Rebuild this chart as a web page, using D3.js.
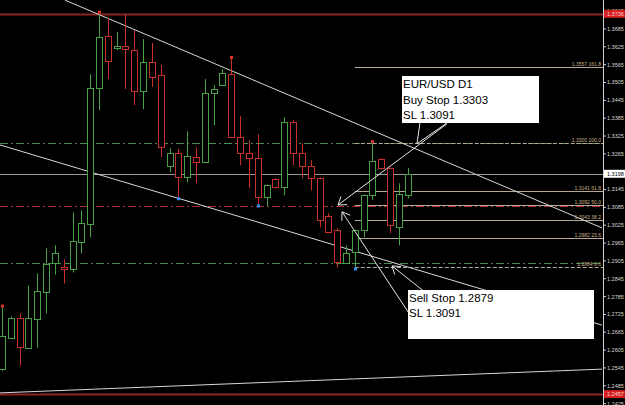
<!DOCTYPE html>
<meta charset="utf-8">
<html>
<script src="https://d3js.org/d3.v7.min.js"></script>
<style>
  body { margin: 0; background: #000; }
  text { font-family: "Liberation Sans", Arial, sans-serif; }
</style>
<div id="chart"></div>
<script>

var width = 625,
    height = 405,
    plotRight = 603;

// daily bars, oldest first
var opens  = [1.2543,1.2647,1.2714,1.2613,1.2711,1.2802,1.2896,1.2883,1.2876,1.2967,1.3028,1.3486,1.3661,1.3621,1.3628,1.3614,1.3476,1.3574,1.3530,1.3223,1.3267,1.3186,1.3254,1.3237,1.3469,1.3496,1.3533,1.3321,1.3267,1.3250,1.3119,1.3180,1.3153,1.3372,1.3267,1.3223,1.3183,1.3055,1.3008,1.2900,1.2933,1.3008,1.3126,1.3247,1.3217,1.3018,1.3129];
var highs  = [1.2748,1.2718,1.2728,1.2822,1.2863,1.2947,1.2957,1.2910,1.3068,1.3075,1.3533,1.3736,1.3722,1.3675,1.3736,1.3682,1.3651,1.3638,1.3564,1.3284,1.3281,1.3341,1.3287,1.3517,1.3496,1.3550,1.3584,1.3392,1.3311,1.3331,1.3162,1.3183,1.3388,1.3378,1.3301,1.3244,1.3186,1.3065,1.3015,1.2957,1.3010,1.3128,1.3301,1.3250,1.3220,1.3166,1.3217];
var lows   = [1.2536,1.2644,1.2553,1.2610,1.2613,1.2728,1.2859,1.2829,1.2866,1.2930,1.2984,1.3412,1.3517,1.3614,1.3483,1.3429,1.3415,1.3490,1.3254,1.3203,1.3119,1.3169,1.3166,1.3234,1.3361,1.3493,1.3318,1.3227,1.3149,1.3095,1.3089,1.3149,1.3126,1.3227,1.3183,1.3142,1.3018,1.2998,1.2883,1.2896,1.2883,1.2984,1.3109,1.3213,1.2998,1.2957,1.3115];
var closes = [1.2654,1.2714,1.2617,1.2714,1.2805,1.2896,1.2930,1.2876,1.2971,1.3031,1.3486,1.3658,1.3577,1.3628,1.3618,1.3476,1.3574,1.3523,1.3287,1.3267,1.3186,1.3257,1.3237,1.3469,1.3483,1.3537,1.3321,1.3267,1.3250,1.3119,1.3159,1.3153,1.3372,1.3267,1.3223,1.3183,1.3041,1.3001,1.2900,1.2933,1.3008,1.3126,1.3240,1.3217,1.3024,1.3129,1.3198];

// 1.3205 sits under the last-price tag, so it is not listed
var priceTicks = [1.2425,1.2485,1.2545,1.2605,1.2665,1.2725,1.2785,1.2845,1.2905,1.2965,1.3025,1.3085,1.3145,1.3265,1.3325,1.3385,1.3445,1.3505,1.3565,1.3625,1.3685,1.3745];

var fibLevels = [1.3557, 1.3300, 1.3141, 1.3092, 1.3043, 1.2982, 1.2884];
var fibNames  = ["161.8", "100.0", "61.8", "50.0", "38.2", "23.6", "0.0"];
var fibStart = 40;

var fractalUp = [0, 11, 26, 42];
var fractalDown = [20, 29, 40];

var pendingLevels = [1.3303, 1.2898];
var stopLevel = 1.3091;
var rangeLevels = [1.3736, 1.2457];
var lastPrice = 1.3198;

// trend lines as [bar, price] pairs
var trendLines = [
  [[7.14, 1.3782], [68.03, 1.3016]],
  [[-0.23, 1.3295], [68.03, 1.2689]],
  [[-0.23, 1.2461], [68.03, 1.2541]]
];

// arrows: [from, tip]
var arrows = [
  [[50.45, 1.3366], [38.10, 1.3093]],
  [[47.39, 1.2673], [38.55, 1.3070]],
  [[47.96, 1.2800], [44.22, 1.2888]]
];
var pointers = [
  [[47.39, 1.3369], [47.05, 1.3299]],
  [[50.45, 1.3369], [47.05, 1.3299]]
];

var buyText = ["EUR/USD D1", "Buy Stop 1.3303", "SL  1.3091"];
var sellText = ["Sell Stop 1.2879", "SL 1.3091"];

var green = "#46a046", red = "#c9302c";

var x = d3.scaleLinear().domain([0, 46]).range([2, 407.7]);
var y = d3.scaleLinear().domain([1.24203, 1.37825]).range([405, 0]);

var svg = d3.select("#chart").append("svg")
    .attr("width", width)
    .attr("height", height)
    .style("background", "#000");

var plot = svg.append("g");

// range lines (high / low)
plot.selectAll("line.range")
  .data(rangeLevels)
  .enter().append("line")
    .attr("x1", 0).attr("x2", plotRight)
    .attr("y1", function(d) { return Math.round(y(d)) + 0.5; })
    .attr("y2", function(d) { return Math.round(y(d)) + 0.5; })
    .attr("stroke", "#8e2424")
    .attr("stroke-width", 2);

// pending order lines
plot.selectAll("line.pending")
  .data(pendingLevels)
  .enter().append("line")
    .attr("x1", 0).attr("x2", plotRight)
    .attr("y1", function(d) { return Math.round(y(d)) + 0.5; })
    .attr("y2", function(d) { return Math.round(y(d)) + 0.5; })
    .attr("stroke", "#4e8a4e")
    .attr("stroke-dasharray", "8,3,2,3");

plot.append("line")
    .attr("x1", 0).attr("x2", plotRight)
    .attr("y1", Math.round(y(stopLevel)) + 0.5)
    .attr("y2", Math.round(y(stopLevel)) + 0.5)
    .attr("stroke", "#a83232")
    .attr("stroke-dasharray", "8,3,2,3");

// last price line
plot.append("line")
    .attr("x1", 0).attr("x2", plotRight)
    .attr("y1", Math.round(y(lastPrice)) + 0.5)
    .attr("y2", Math.round(y(lastPrice)) + 0.5)
    .attr("stroke", "#9a9a9a");

// fibonacci levels
var fib = plot.selectAll("g.fib")
  .data(fibLevels)
  .enter().append("g");

fib.append("line")
    .attr("x1", x(fibStart)).attr("x2", plotRight)
    .attr("y1", function(d) { return Math.round(y(d)) + 0.5; })
    .attr("y2", function(d) { return Math.round(y(d)) + 0.5; })
    .attr("stroke", "#b8a898")
    .attr("stroke-dasharray", function(d, i) { return (i == 1 || i == 6) ? "4,2" : null; });

fib.append("text")
    .attr("x", plotRight - 2)
    .attr("y", function(d) { return Math.round(y(d)) - 1; })
    .attr("text-anchor", "end")
    .attr("font-size", "5px")
    .attr("fill", "#c8b48a")
    .text(function(d, i) { return d.toFixed(4) + "  " + fibNames[i]; });

// trend lines
var line = d3.line()
    .x(function(d) { return x(d[0]); })
    .y(function(d) { return y(d[1]); });

plot.selectAll("path.trend")
  .data(trendLines)
  .enter().append("path")
    .attr("d", line)
    .attr("stroke", "#d8d8d8")
    .attr("fill", "none");

// candles
var bars = d3.range(opens.length);

plot.selectAll("line.wick")
  .data(bars)
  .enter().append("line")
    .attr("x1", function(i) { return Math.round(x(i)) + 0.5; })
    .attr("x2", function(i) { return Math.round(x(i)) + 0.5; })
    .attr("y1", function(i) { return y(highs[i]); })
    .attr("y2", function(i) { return y(lows[i]); })
    .attr("stroke", function(i) { return closes[i] >= opens[i] ? green : red; });

plot.selectAll("rect.body")
  .data(bars)
  .enter().append("rect")
    .attr("x", function(i) { return Math.round(x(i)) - 2.5; })
    .attr("y", function(i) { return Math.round(y(Math.max(opens[i], closes[i]))) + 0.5; })
    .attr("width", 6)
    .attr("height", function(i) { return Math.max(1, Math.round(Math.abs(y(opens[i]) - y(closes[i])))); })
    .attr("fill", "#000")
    .attr("stroke", function(i) { return closes[i] >= opens[i] ? green : red; });

// fractal markers
plot.selectAll("rect.up")
  .data(fractalUp)
  .enter().append("rect")
    .attr("x", function(i) { return Math.round(x(i)) - 1; })
    .attr("y", function(i) { return y(highs[i]) - 3; })
    .attr("width", 3).attr("height", 3)
    .attr("fill", "#e03030");

plot.selectAll("rect.down")
  .data(fractalDown)
  .enter().append("rect")
    .attr("x", function(i) { return Math.round(x(i)) - 1; })
    .attr("y", function(i) { return y(lows[i]); })
    .attr("width", 3).attr("height", 3)
    .attr("fill", "#3a8cf0");

// arrows
function arrowHead(a) {
  var x0 = x(a[0][0]), y0 = y(a[0][1]), x1 = x(a[1][0]), y1 = y(a[1][1]);
  var ang = Math.atan2(y0 - y1, x0 - x1), len = 9, spread = 0.6;
  return "M" + (x1 + len * Math.cos(ang - spread)) + "," + (y1 + len * Math.sin(ang - spread)) +
         "L" + x1 + "," + y1 +
         "L" + (x1 + len * Math.cos(ang + spread)) + "," + (y1 + len * Math.sin(ang + spread));
}

plot.selectAll("path.arrow")
  .data(arrows.concat(pointers))
  .enter().append("path")
    .attr("d", line)
    .attr("stroke", "#e6e6e6")
    .attr("fill", "none");

plot.selectAll("path.head")
  .data(arrows)
  .enter().append("path")
    .attr("d", arrowHead)
    .attr("stroke", "#e6e6e6")
    .attr("fill", "none");

// text boxes
function textBox(x0, y0, w, h, lines, lh) {
  plot.append("rect")
      .attr("x", x0).attr("y", y0)
      .attr("width", w).attr("height", h)
      .attr("fill", "#fff");
  plot.selectAll(null)
    .data(lines)
    .enter().append("text")
      .attr("x", x0 + 1)
      .attr("y", function(d, i) { return y0 + 12 + i * lh; })
      .attr("font-size", "11.5px")
      .attr("fill", "#000")
      .text(function(d) { return d; });
}
textBox(402, 76, 137, 47, buyText, 15.7);
textBox(408, 290, 186, 49, sellText, 15.2);

// price axis
var axis = svg.append("g");
axis.append("line")
    .attr("x1", plotRight + 0.5).attr("x2", plotRight + 0.5)
    .attr("y1", 0).attr("y2", height)
    .attr("stroke", "#d0d0d0");

var tick = axis.selectAll("g.tick")
  .data(priceTicks)
  .enter().append("g")
    .attr("transform", function(d) { return "translate(0," + y(d) + ")"; });

tick.append("line")
    .attr("x1", plotRight).attr("x2", plotRight + 3)
    .attr("stroke", "#d0d0d0");

tick.append("text")
    .attr("x", plotRight + 4)
    .attr("dy", "0.35em")
    .attr("font-size", "5.5px")
    .attr("fill", "#d8d8d8")
    .text(function(d) { return d.toFixed(4); });

// price tags
function tag(p, bg, fg) {
  var g = axis.append("g").attr("transform", "translate(0," + y(p) + ")");
  g.append("rect")
      .attr("x", plotRight + 1).attr("y", -4)
      .attr("width", width - plotRight).attr("height", 8)
      .attr("fill", bg);
  g.append("text")
      .attr("x", plotRight + 4)
      .attr("dy", "0.35em")
      .attr("font-size", "5.5px")
      .attr("fill", fg)
      .text(p.toFixed(4));
}
tag(rangeLevels[0], "#d42020", "#ffd0d0");
tag(rangeLevels[1], "#d42020", "#ffd0d0");
tag(lastPrice, "#ffffff", "#000000");

</script>
</html>
